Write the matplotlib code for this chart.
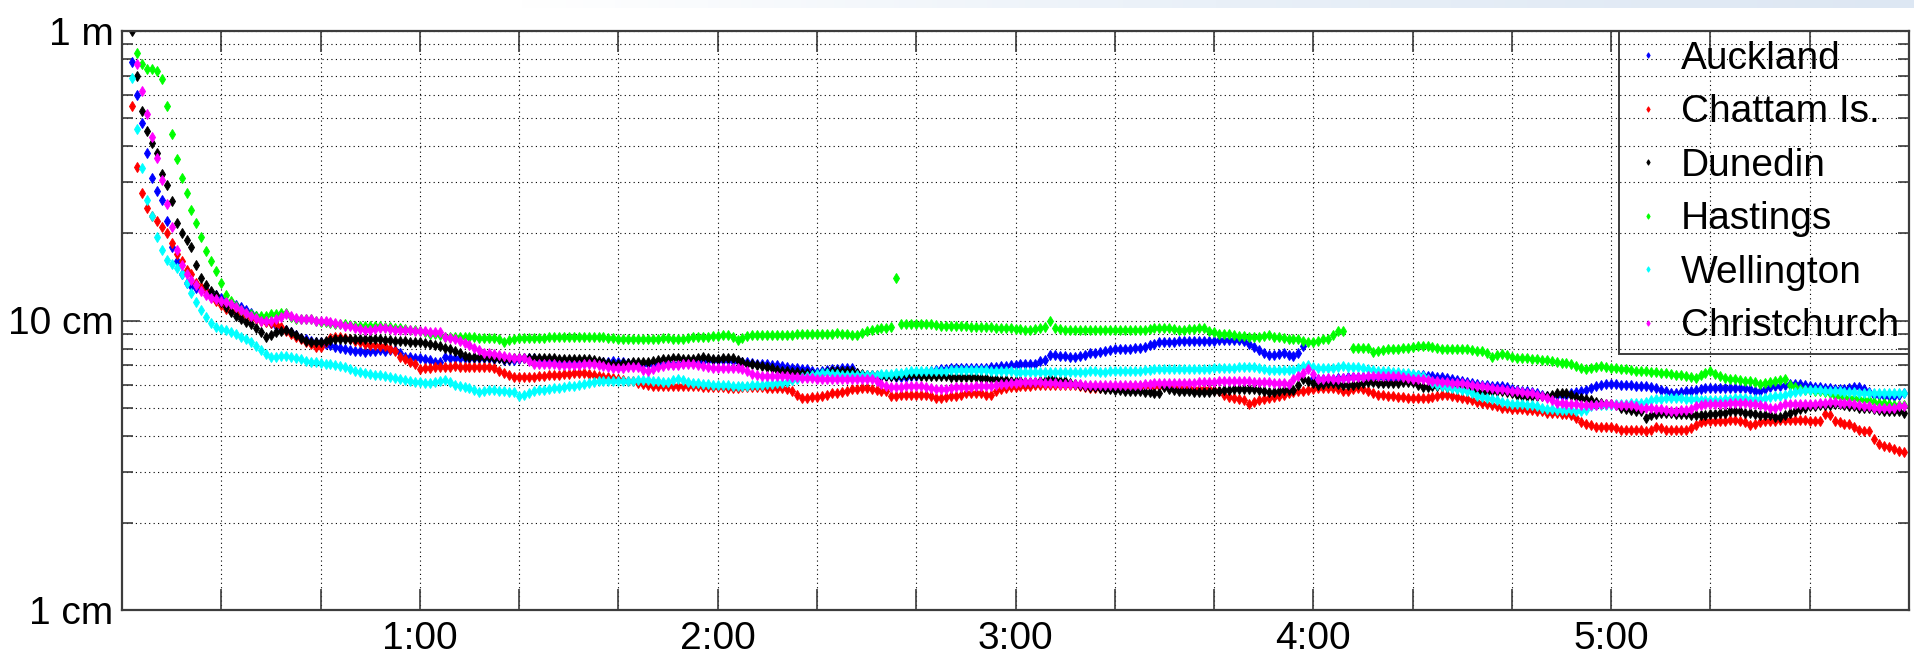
"""
Sea level residual amplitude at NZ tide gauges (log scale), recreated with matplotlib.
"""

import matplotlib
matplotlib.use("Agg")
import matplotlib.pyplot as plt
import matplotlib.ticker as mticker
import numpy as np

nan = np.nan

# ---- data: one sample per minute, values in cm ----
stations = ["Auckland", "Chattam Is.", "Dunedin", "Hastings", "Wellington", "Christchurch"]
colors = ["#0000ff", "#ff0000", "#000000", "#00ff00", "#00ffff", "#ff00ff"]
start_minute = [2, 2, 2, 3, 2, 3]

auckland = [
    78, 60, 48, 38, 31, 28, 26, 22, 18, 16,
    14.5, 13.5, 13.2, 13.0, 12.9, 12.7, 12.4, 12.2, 12.0, 11.6,
    11.4, 11.3, 11.1, 10.9, 10.6, 10.4, 10.2, 10.0, 9.8, 9.6,
    9.4, 9.3, 9.1, 8.9, 8.7, 8.6, 8.5, 8.4, 8.4, 8.3,
    8.2, 8.1, 8.05, 8.0, 7.9, 7.85, 7.85, 7.8, 7.85, 7.85,
    7.9, 7.85, 7.9, 7.9, 7.7, 7.5, 7.5, 7.45, 7.4, 7.35,
    7.3, 7.2, 7.2, 7.5, 7.45, 7.4, 7.4, 7.4, 7.45, 7.4,
    7.4, 7.45, 7.4, 7.35, 7.4, 7.3, 7.3, 7.3, 7.35, 7.4,
    7.4, 7.4, 7.35, 7.3, 7.25, 7.2, 7.2, 7.25, 7.2, 7.2,
    7.2, 7.25, 7.2, 7.2, 7.15, 7.2, 7.2, 7.25, 7.2, 7.2,
    7.15, 7.15, 7.1, 7.1, 7.1, 7.1, 7.05, 7.05, 7.05, 7.1,
    7.1, 7.15, 7.2, 7.2, 7.2, 7.25, 7.3, 7.3, 7.3, 7.3,
    7.3, 7.25, 7.25, 7.2, 7.2, 7.15, 7.1, 7.1, 7.05, 7.0,
    7.0, 6.95, 6.9, 6.85, 6.85, 6.8, 6.8, 6.7, 6.65, 6.7,
    6.75, 6.8, 6.8, 6.85, 6.85, 6.85, 6.6, 6.5, 6.5, 6.5,
    6.45, 6.45, 6.45, 6.45, 6.4, 6.4, 6.4, 6.45, 6.45, 6.55,
    6.65, 6.7, 6.75, 6.8, 6.8, 6.85, 6.85, 6.85, 6.85, 6.85,
    6.85, 6.85, 6.85, 6.9, 6.9, 6.95, 6.95, 7.0, 7.0, 7.05,
    7.05, 7.05, 7.1, 7.25, 7.3, 7.6, 7.6, 7.55, 7.55, 7.5,
    7.5, 7.55, 7.6, 7.7, 7.75, 7.8, 7.85, 7.9, 7.95, 8.0,
    8.0, 8.0, 8.05, 8.05, 8.1, 8.2, 8.3, 8.4, 8.45, 8.45,
    8.45, 8.5, 8.5, 8.5, 8.5, 8.5, 8.5, 8.5, 8.5, 8.55,
    8.55, 8.55, 8.55, 8.55, 8.5, 8.3, 8.1, 7.9, 7.7, 7.6,
    7.6, 7.65, 7.7, 7.6, 7.55, 7.7, 8.15, nan, 6.35, 6.3,
    6.3, 6.3, 6.3, 6.35, 6.35, 6.4, 6.4, 6.4, 6.4, 6.4,
    6.4, 6.4, 6.4, 6.35, 6.35, 6.35, 6.4, 6.45, 6.5, 6.5,
    6.5, 6.45, 6.45, 6.4, 6.4, 6.35, 6.3, 6.25, 6.2, 6.15,
    6.1, 6.05, 6.0, 6.0, 5.95, 5.95, 5.95, 5.9, 5.8, 5.75,
    5.7, 5.7, 5.65, 5.6, 5.55, 5.5, 5.5, 5.55, 5.55, 5.55,
    5.6, 5.65, 5.7, 5.75, 5.85, 5.95, 6.0, 6.05, 6.05, 6.05,
    6.0, 6.0, 6.0, 5.95, 5.95, 5.95, 5.9, 5.85, 5.75, 5.7,
    5.6, 5.6, 5.65, 5.7, 5.7, 5.75, 5.8, 5.85, 5.85, 5.85,
    5.85, 5.85, 5.85, 5.85, 5.85, 5.85, 5.8, 5.7, 5.7, 5.8,
    5.9, 5.95, 5.95, 6.0, 6.05, 6.05, 6.05, 6.0, 5.95, 5.9,
    5.9, 5.85, 5.85, 5.8, 5.8, 5.8, 5.85, 5.9, 5.9, 5.8,
    5.65, 5.55, 5.55, 5.5, 5.5, 5.5, 5.55, 5.6,
]

chattam = [
    55, 34, 27.5, 24.5, 23, 22, 21, 20, 18.5, 17,
    16, 15, 14.5, 13.5, 13.1, 12.6, 12.1, 11.7, 11.3, 11.0,
    10.8, 10.7, 10.5, 10.4, 10.2, 10.1, 10.0, 9.9, 9.8, 9.7,
    9.5, 9.2, 9.0, 8.8, 8.6, 8.4, 8.3, 8.1, 8.1, 8.4,
    8.7, 8.8, 8.8, 8.7, 8.6, 8.5, 8.4, 8.3, 8.2, 8.2,
    8.15, 8.15, 8.0, 7.85, 7.5, 7.35, 7.2, 7.05, 6.8, 6.85,
    6.85, 6.9, 6.9, 6.9, 6.9, 6.95, 6.9, 6.9, 6.9, 6.9,
    6.9, 6.9, 6.9, 6.85, 6.7, 6.6, 6.5, 6.4, 6.4, 6.4,
    6.4, 6.4, 6.45, 6.45, 6.5, 6.5, 6.5, 6.55, 6.55, 6.6,
    6.6, 6.6, 6.55, 6.5, 6.45, 6.4, 6.4, 6.35, 6.3, 6.25,
    6.2, 6.2, 6.1, 6.05, 6.0, 5.95, 5.95, 5.95, 5.95, 5.95,
    5.95, 5.95, 5.95, 5.95, 5.95, 5.9, 5.9, 5.9, 5.9, 5.9,
    5.85, 5.85, 5.85, 5.9, 5.9, 5.9, 5.9, 5.9, 5.85, 5.85,
    5.85, 5.85, 5.8, 5.7, 5.55, 5.4, 5.4, 5.45, 5.45, 5.5,
    5.55, 5.6, 5.6, 5.65, 5.7, 5.8, 5.8, 5.85, 5.85, 5.8,
    5.75, 5.7, 5.7, 5.5, 5.5, 5.55, 5.55, 5.55, 5.55, 5.55,
    5.55, 5.5, 5.4, 5.4, 5.45, 5.5, 5.5, 5.55, 5.6, 5.6,
    5.6, 5.6, 5.55, 5.55, 5.7, 5.8, 5.85, 5.9, 5.9, 5.95,
    5.95, 5.95, 6.0, 6.0, 6.0, 6.0, 6.0, 6.0, 6.0, 6.0,
    6.0, 5.95, 5.9, 5.85, 5.85, 5.85, 5.85, 5.85, 5.85, 5.9,
    5.9, 5.95, 5.95, 5.95, 5.95, 5.95, 5.95, 5.95, 5.95, 5.9,
    5.9, 5.85, 5.85, 5.85, 5.8, 5.8, 5.8, 5.8, 5.75, 5.7,
    5.55, 5.45, 5.4, 5.35, 5.3, 5.15, 5.25, 5.3, 5.35, 5.4,
    5.45, 5.5, 5.55, 5.6, 5.65, 5.7, 5.7, 5.75, 5.8, 5.85,
    5.85, 5.85, 5.85, 5.8, 5.7, 5.7, 5.8, 5.85, 5.8, 5.7,
    5.6, 5.55, 5.55, 5.5, 5.5, 5.45, 5.45, 5.4, 5.4, 5.4,
    5.4, 5.4, 5.45, 5.5, 5.55, 5.55, 5.5, 5.45, 5.4, 5.35,
    5.3, 5.25, 5.2, 5.15, 5.1, 5.05, 5.0, 5.0, 4.95, 4.95,
    4.95, 4.9, 4.9, 4.85, 4.85, 4.8, 4.8, 4.8, 4.75, 4.75,
    4.7, 4.6, 4.45, 4.4, 4.35, 4.3, 4.3, 4.3, 4.3, 4.25,
    4.2, 4.2, 4.2, 4.2, 4.2, 4.15, 4.2, 4.3, 4.25, 4.2,
    4.2, 4.2, 4.2, 4.2, 4.25, 4.35, 4.45, 4.5, 4.5, 4.5,
    4.5, 4.5, 4.55, 4.55, 4.5, 4.45, 4.35, 4.4, 4.45, 4.5,
    4.5, 4.5, 4.55, 4.55, 4.55, 4.55, 4.55, 4.55, 4.5, 4.5,
    4.5, 4.75, 4.7, 4.5, 4.45, 4.4, 4.4, 4.3, 4.2, 4.15,
    4.15, 3.9, 3.75, 3.7, 3.65, 3.6, 3.55, 3.5,
]

dunedin = [
    100, 70, 53, 45, 41, 38, 32, 29.4, 25.8, 21.8,
    20, 19, 18, 15.6, 14, 13.3, 12.6, 12.2, 11.6, 11.1,
    10.7, 10.4, 10.1, 9.9, 9.7, 9.4, 9.1, 8.8, 8.9, 9.1,
    9.2, 9.3, 9.1, 8.9, 8.7, 8.5, 8.45, 8.4, 8.4, 8.5,
    8.55, 8.6, 8.6, 8.6, 8.6, 8.65, 8.6, 8.6, 8.6, 8.6,
    8.6, 8.55, 8.55, 8.5, 8.5, 8.5, 8.45, 8.4, 8.4, 8.35,
    8.3, 8.25, 8.15, 8.05, 7.95, 7.85, 7.7, 7.55, 7.5, 7.5,
    7.5, 7.5, 7.5, 7.45, 7.4, 7.35, 7.35, 7.4, 7.4, 7.4,
    7.4, 7.4, 7.45, 7.4, 7.4, 7.4, 7.35, 7.35, 7.35, 7.35,
    7.35, 7.35, 7.35, 7.3, 7.25, 7.2, 7.15, 7.1, 7.1, 7.15,
    7.15, 7.2, 7.2, 7.2, 7.2, 7.25, 7.3, 7.35, 7.35, 7.4,
    7.4, 7.35, 7.35, 7.35, 7.4, 7.5, 7.4, 7.35, 7.35, 7.4,
    7.4, 7.4, 7.3, 7.2, 7.1, 7.05, 7.0, 6.95, 6.9, 6.85,
    6.75, 6.7, 6.7, 6.65, 6.65, 6.6, 6.6, 6.55, 6.55, 6.6,
    6.65, 6.7, 6.7, 6.7, 6.7, 6.7, 6.6, 6.55, 6.5, 6.5,
    6.5, 6.45, 6.45, 6.45, 6.45, 6.5, 6.5, 6.5, 6.5, 6.45,
    6.45, 6.45, 6.45, 6.45, 6.45, 6.4, 6.4, 6.4, 6.4, 6.4,
    6.4, 6.35, 6.35, 6.3, 6.3, 6.25, 6.25, 6.2, 6.2, 6.2,
    6.15, 6.15, 6.15, 6.2, 6.2, 6.35, 6.25, 6.2, 6.2, 6.1,
    6.05, 6.0, 5.95, 5.9, 5.9, 5.85, 5.8, 5.8, 5.75, 5.75,
    5.7, 5.7, 5.7, 5.7, 5.65, 5.65, 5.6, 5.6, 5.9, 5.8,
    5.75, 5.7, 5.7, 5.7, 5.65, 5.65, 5.65, 5.65, 5.7, 5.7,
    5.75, 5.75, 5.8, 5.8, 5.8, 5.8, 5.8, 5.75, 5.7, 5.65,
    5.65, 5.7, 5.75, 5.75, 5.75, 6.0, 6.3, 6.2, 6.1, 6.0,
    6.05, 6.1, 6.1, 6.05, 6.0, 6.0, 6.0, 6.05, 6.1, 6.15,
    6.15, 6.1, 6.1, 6.1, 6.1, 6.1, 6.15, 6.15, 6.15, 6.0,
    5.9, 5.9, 5.95, 5.95, 5.95, 5.9, 5.9, 5.85, 5.85, 5.8,
    5.75, 5.7, 5.65, 5.65, 5.7, 5.7, 5.7, 5.65, 5.6, 5.55,
    5.5, 5.5, 5.5, 5.5, 5.5, 5.5, 5.55, 5.6, 5.6, 5.6,
    5.55, 5.45, 5.4, 5.35, 5.3, 5.25, 5.2, 5.15, 5.15, 5.1,
    5.0, 4.95, 4.9, 4.85, 4.85, 4.6, 4.7, 4.75, 4.8, 4.8,
    4.8, 4.75, 4.75, 4.75, 4.7, 4.7, 4.7, 4.7, 4.75, 4.75,
    4.8, 4.8, 4.85, 4.85, 4.85, 4.8, 4.8, 4.75, 4.7, 4.7,
    4.7, 4.65, 4.65, 4.7, 4.8, 4.85, 4.95, 5.0, 5.05, 5.05,
    5.1, 5.1, 5.1, 5.15, 5.15, 5.1, 5.05, 5.05, 5.0, 5.0,
    5.0, 4.95, 4.9, 4.85, 4.85, 4.85, 4.85, 4.8,
]

hastings = [
    84, 77, 74, 74, 73, 68.5, 55, 44, 36, 31,
    27.6, 24, 21.7, 19.4, 17.4, 16, 14.8, 13.5, 12.2, 11.7,
    11.2, 10.9, 10.6, 10.5, 10.4, 10.4, 10.4, 10.5, 10.5, 10.6,
    10.6, 10.3, 10.1, 10.1, 10.1, 10.1, 10.0, 9.9, 9.85, 9.8,
    9.75, 9.7, 9.7, 9.65, 9.6, 9.6, 9.6, 9.55, 9.55, 9.55,
    9.5, 9.5, 9.45, 9.4, 9.35, 9.3, 9.25, 9.2, 9.1, 9.0,
    8.95, 8.9, 8.8, 8.8, 8.8, 8.75, 8.75, 8.75, 8.75, 8.7,
    8.7, 8.7, 8.7, 8.6, 8.45, 8.55, 8.65, 8.7, 8.7, 8.7,
    8.7, 8.7, 8.7, 8.75, 8.75, 8.75, 8.8, 8.8, 8.8, 8.8,
    8.8, 8.75, 8.75, 8.75, 8.75, 8.7, 8.7, 8.65, 8.65, 8.65,
    8.65, 8.65, 8.65, 8.65, 8.6, 8.65, 8.7, 8.7, 8.65, 8.6,
    8.65, 8.7, 8.75, 8.8, 8.8, 8.8, 8.85, 8.85, 8.9, 8.9,
    8.75, 8.55, 8.7, 8.85, 8.9, 8.9, 8.9, 8.9, 8.9, 8.9,
    8.9, 8.9, 8.9, 8.95, 8.95, 8.95, 9.0, 9.0, 9.0, 9.0,
    9.0, 9.05, 9.0, 8.95, 8.9, 8.9, 9.05, 9.2, 9.3, 9.35,
    9.4, 9.45, 9.5, 14.0, 9.7, 9.75, 9.75, 9.75, 9.75, 9.7,
    9.7, 9.65, 9.6, 9.6, 9.6, 9.55, 9.55, 9.55, 9.5, 9.5,
    9.5, 9.5, 9.5, 9.45, 9.45, 9.4, 9.4, 9.35, 9.35, 9.3,
    9.3, 9.35, 9.45, 9.5, 9.95, 9.4, 9.35, 9.3, 9.25, 9.25,
    9.25, 9.25, 9.25, 9.25, 9.25, 9.3, 9.3, 9.3, 9.3, 9.25,
    9.25, 9.25, 9.25, 9.3, 9.35, 9.4, 9.45, 9.45, 9.4, 9.35,
    9.3, 9.3, 9.35, 9.35, 9.4, 9.4, 9.2, 9.1, 9.0, 8.95,
    8.95, 8.9, 8.85, 8.85, 8.8, 8.8, 8.8, 8.85, 8.9, 8.8,
    8.75, 8.7, 8.65, 8.65, 8.6, 8.5, 8.45, 8.45, 8.5, 8.6,
    8.65, 8.9, 9.2, 9.2, nan, 8.05, 8.05, 8.05, 8.05, 7.8,
    7.85, 7.9, 7.95, 8.0, 8.0, 8.05, 8.05, 8.1, 8.15, 8.15,
    8.15, 8.1, 8.05, 8.0, 8.0, 8.0, 8.0, 8.0, 7.95, 7.9,
    7.85, 7.85, 7.7, 7.5, 7.6, 7.65, 7.6, 7.5, 7.45, 7.4,
    7.4, 7.35, 7.35, 7.3, 7.3, 7.25, 7.2, 7.15, 7.15, 7.05,
    6.95, 6.85, 6.8, 6.85, 6.9, 6.95, 6.9, 6.85, 6.85, 6.8,
    6.8, 6.75, 6.7, 6.7, 6.7, 6.65, 6.65, 6.6, 6.6, 6.55,
    6.5, 6.5, 6.45, 6.4, 6.35, 6.5, 6.6, 6.7, 6.55, 6.45,
    6.35, 6.3, 6.3, 6.25, 6.2, 6.2, 6.15, 6.05, 6.1, 6.15,
    6.2, 6.25, 6.3, 6.0, 5.9, 5.8, 5.75, 5.75, 5.7, 5.7,
    5.65, 5.6, 5.5, 5.5, 5.45, 5.4, 5.4, 5.35, 5.3, 5.3,
    5.25, 5.2, 5.2, 5.15, 5.1, 5.1, 5.1,
]

wellington = [
    69, 46, 33.5, 26, 23, 19.5, 17.5, 16.2, 15.7, 15.2,
    14.5, 13.5, 12.4, 11.6, 10.9, 10.3, 9.8, 9.5, 9.35, 9.25,
    9.15, 9.0, 8.8, 8.6, 8.4, 8.15, 7.9, 7.65, 7.5, 7.5,
    7.55, 7.55, 7.5, 7.45, 7.35, 7.25, 7.2, 7.2, 7.15, 7.1,
    7.05, 7.0, 6.95, 6.9, 6.8, 6.7, 6.65, 6.6, 6.55, 6.5,
    6.5, 6.45, 6.4, 6.35, 6.3, 6.25, 6.2, 6.15, 6.15, 6.1,
    6.1, 6.15, 6.2, 6.25, 6.15, 6.0, 5.95, 5.9, 5.85, 5.75,
    5.65, 5.7, 5.75, 5.75, 5.7, 5.7, 5.65, 5.65, 5.5, 5.55,
    5.6, 5.7, 5.75, 5.75, 5.8, 5.85, 5.85, 5.9, 5.95, 5.95,
    6.0, 6.05, 6.1, 6.15, 6.2, 6.2, 6.2, 6.2, 6.2, 6.2,
    6.2, 6.2, 6.25, 6.25, 6.25, 6.2, 6.2, 6.15, 6.15, 6.25,
    6.3, 6.25, 6.15, 6.1, 6.1, 6.05, 6.05, 6.0, 6.0, 6.0,
    6.0, 5.95, 5.95, 5.95, 5.95, 6.0, 6.0, 6.0, 6.05, 6.05,
    6.1, 6.1, 6.15, 6.25, 6.3, 6.4, 6.45, 6.5, 6.55, 6.6,
    6.6, 6.55, 6.55, 6.5, 6.5, 6.5, 6.5, 6.5, 6.5, 6.5,
    6.5, 6.55, 6.55, 6.55, 6.6, 6.6, 6.65, 6.7, 6.7, 6.7,
    6.7, 6.7, 6.7, 6.7, 6.7, 6.75, 6.75, 6.75, 6.75, 6.75,
    6.75, 6.75, 6.75, 6.7, 6.7, 6.7, 6.7, 6.7, 6.65, 6.65,
    6.65, 6.65, 6.65, 6.65, 6.65, 6.65, 6.65, 6.65, 6.65, 6.65,
    6.65, 6.65, 6.65, 6.7, 6.7, 6.65, 6.65, 6.7, 6.7, 6.7,
    6.7, 6.7, 6.7, 6.7, 6.75, 6.75, 6.8, 6.8, 6.8, 6.8,
    6.8, 6.8, 6.8, 6.8, 6.8, 6.8, 6.8, 6.8, 6.85, 6.85,
    6.85, 6.85, 6.85, 6.9, 6.9, 6.9, 6.9, 6.85, 6.8, 6.75,
    6.75, 6.75, 6.75, 6.75, 6.75, 6.85, 6.95, 7.0, 6.9, 6.85,
    6.85, 6.85, 6.85, 6.9, 6.95, 6.9, 6.9, 6.9, 6.85, 6.8,
    6.75, 6.7, 6.7, 6.7, 6.65, 6.65, 6.6, 6.6, 6.55, 6.5,
    6.45, 6.3, 6.1, 6.0, 5.95, 5.9, 5.85, 5.8, 5.75, 5.7,
    5.6, 5.5, 5.45, 5.4, 5.35, 5.3, 5.25, 5.2, 5.15, 5.15,
    5.15, 5.1, 5.1, 5.05, 5.0, 4.95, 4.95, 4.9, 4.9, 4.9,
    4.9, 4.85, 4.85, 4.9, 5.05, 5.1, 5.1, 5.1, 5.1, 5.15,
    5.15, 5.15, 5.2, 5.2, 5.2, 5.25, 5.3, 5.35, 5.35, 5.4,
    5.4, 5.4, 5.4, 5.35, 5.35, 5.35, 5.3, 5.3, 5.3, 5.3,
    5.3, 5.35, 5.35, 5.4, 5.4, 5.4, 5.35, 5.35, 5.35, 5.4,
    5.45, 5.5, 5.5, 5.55, 5.6, 5.65, 5.7, 5.75, 5.75, 5.75,
    5.75, 5.7, 5.7, 5.7, 5.7, 5.65, 5.65, 5.65, 5.6, 5.6,
    5.6, 5.6, 5.6, 5.6, 5.6, 5.6, 5.6, 5.6,
]

christchurch = [
    77, 62, 51.5, 43, 36.5, 30.5, 25.3, 21, 17.5, 15.5,
    14.5, 13.8, 13.3, 12.6, 12.2, 12.0, 11.9, 11.7, 11.6, 11.4,
    11.1, 10.9, 10.6, 10.4, 10.2, 10.0, 10.0, 10.0, 10.1, 10.3,
    10.5, 10.4, 10.2, 10.1, 10.1, 10.1, 10.0, 10.0, 9.95, 9.9,
    9.8, 9.7, 9.6, 9.55, 9.45, 9.35, 9.3, 9.3, 9.35, 9.4,
    9.4, 9.35, 9.3, 9.3, 9.3, 9.25, 9.2, 9.2, 9.2, 9.15,
    9.15, 9.15, 8.8, 8.7, 8.6, 8.5, 8.35, 8.2, 8.05, 7.9,
    7.75, 7.7, 7.65, 7.6, 7.55, 7.5, 7.45, 7.4, 7.4, 7.25,
    7.05, 7.05, 7.05, 7.05, 7.05, 7.0, 7.0, 7.0, 7.0, 7.0,
    7.05, 7.05, 7.05, 7.0, 6.95, 6.9, 6.85, 6.85, 6.85, 6.9,
    6.9, 6.9, 6.75, 6.7, 6.8, 6.9, 6.95, 7.0, 7.0, 7.0,
    7.05, 7.05, 7.05, 7.0, 6.95, 6.9, 6.85, 6.85, 6.85, 6.85,
    6.85, 6.85, 6.8, 6.7, 6.55, 6.5, 6.45, 6.45, 6.45, 6.45,
    6.45, 6.45, 6.4, 6.4, 6.35, 6.35, 6.35, 6.3, 6.3, 6.3,
    6.3, 6.3, 6.3, 6.3, 6.3, 6.3, 6.3, 6.3, 6.3, 6.2,
    6.05, 5.95, 5.9, 5.9, 5.9, 5.95, 5.95, 5.95, 5.95, 5.9,
    5.85, 5.8, 5.8, 5.8, 5.85, 5.9, 5.9, 5.9, 5.9, 5.95,
    5.95, 5.95, 5.95, 6.0, 6.05, 6.05, 6.1, 6.1, 6.15, 6.15,
    6.15, 6.15, 6.15, 6.1, 6.1, 6.1, 6.05, 6.05, 6.05, 6.05,
    6.05, 6.0, 6.0, 6.0, 6.0, 6.0, 6.0, 6.0, 6.0, 6.0,
    6.0, 6.0, 6.0, 6.05, 6.05, 6.1, 6.1, 6.1, 6.1, 6.1,
    6.1, 6.1, 6.1, 6.1, 6.15, 6.15, 6.15, 6.15, 6.2, 6.2,
    6.2, 6.2, 6.2, 6.2, 6.2, 6.15, 6.15, 6.15, 6.15, 6.1,
    6.1, 6.1, 6.05, 6.3, 6.45, 6.6, 6.8, 6.55, 6.3, 6.3,
    6.35, 6.3, 6.3, 6.35, 6.35, 6.4, 6.4, 6.4, 6.45, 6.45,
    6.45, 6.45, 6.45, 6.45, 6.45, 6.4, 6.35, 6.3, 6.3, 6.3,
    6.25, 6.2, 6.2, 6.15, 6.15, 6.1, 6.1, 6.1, 6.05, 6.0,
    5.95, 5.95, 5.9, 5.85, 5.8, 5.8, 5.75, 5.7, 5.7, 5.65,
    5.6, 5.6, 5.55, 5.5, 5.4, 5.3, 5.2, 5.2, 5.15, 5.15,
    5.15, 5.1, 5.1, 5.1, 5.1, 5.15, 5.15, 5.15, 5.1, 5.1,
    5.1, 5.1, 5.05, 5.0, 5.0, 5.0, 4.95, 4.95, 4.9, 4.85,
    4.85, 4.9, 4.9, 4.95, 5.05, 5.1, 5.15, 5.15, 5.15, 5.15,
    5.15, 5.2, 5.2, 5.2, 5.2, 5.15, 5.15, 5.1, 5.05, 5.0,
    5.0, 5.05, 5.15, 5.15, 5.15, 5.15, 5.15, 5.15, 5.15, 5.2,
    5.2, 5.25, 5.25, 5.2, 5.2, 5.2, 5.15, 5.1, 5.05, 5.05,
    5.0, 5.0, 5.0, 5.0, 5.0, 5.05, 5.05,
]

series_cm = [auckland, chattam, dunedin, hastings, wellington, christchurch]

# axis setup
x_ticks = list(range(20, 360, 20))
x_labels = {60: "1:00", 120: "2:00", 180: "3:00", 240: "4:00", 300: "5:00"}
y_ticks = [0.01, 0.1, 1.0]
y_labels = ["1 cm", "10 cm", "1 m"]

plt.rcParams['font.family'] = ['Liberation Sans', 'DejaVu Sans']

fig = plt.figure(figsize=(19.15, 6.55), dpi=100)
fig.patch.set_facecolor('white')

# faint banner strip left over at the very top of the screenshot
band = fig.add_axes([0.27, 0.988, 0.73, 0.012])
band.imshow(np.linspace(0, 1, 256).reshape(1, -1), aspect='auto',
            cmap=matplotlib.colors.LinearSegmentedColormap.from_list(
                'band', ['#ffffff', '#e9f0f8', '#dde7f3']))
band.set_axis_off()

ax = fig.add_axes([122 / 1915, 45 / 655, 1787 / 1915, 579 / 655])

for name, vals, color, t0 in zip(stations, series_cm, colors, start_minute):
    minutes = np.arange(t0, t0 + len(vals))
    ax.plot(minutes, np.array(vals, dtype=float) / 100.0,
            linestyle='none', marker='d', markersize=5.5,
            markeredgewidth=0.7, color=color, label=name)

ax.set_yscale('log')
ax.set_ylim(0.01, 1.0)
ax.set_xlim(0, 360)

ax.xaxis.set_major_locator(mticker.FixedLocator(x_ticks))
ax.xaxis.set_major_formatter(mticker.FuncFormatter(
    lambda v, pos: x_labels.get(int(round(v)), "")))
ax.yaxis.set_major_locator(mticker.FixedLocator(y_ticks))
ax.yaxis.set_major_formatter(mticker.FixedFormatter(y_labels))
ax.yaxis.set_minor_locator(mticker.LogLocator(base=10, subs=np.arange(2, 10)))
ax.yaxis.set_minor_formatter(mticker.NullFormatter())

axis_color = '#3c3c3c'
ax.tick_params(axis='both', which='both', direction='in', colors=axis_color,
               labelcolor='black', labelsize=28, top=True, right=True)
ax.tick_params(axis='x', which='major', length=15, width=1.2, pad=8)
ax.tick_params(axis='y', which='major', length=13, width=1.2, pad=6)
ax.tick_params(axis='y', which='minor', length=8, width=1.2)

for spine in ax.spines.values():
    spine.set_color(axis_color)
    spine.set_linewidth(1.6)

grid_style = dict(color='black', linestyle=(0, (1, 3)), linewidth=0.8)
ax.grid(True, which='major', axis='both', **grid_style)
ax.grid(True, which='minor', axis='y', **grid_style)

leg = ax.legend(loc='upper right', fontsize=28, frameon=True, fancybox=False,
                borderaxespad=0, borderpad=0.25, labelspacing=0.45,
                handlelength=1.0, handletextpad=0.35, markerscale=0.5,
                framealpha=1)
leg.get_frame().set_facecolor('none')
leg.get_frame().set_edgecolor(axis_color)
leg.get_frame().set_linewidth(1.4)

fig.savefig('out.png', dpi=100, facecolor='white')
